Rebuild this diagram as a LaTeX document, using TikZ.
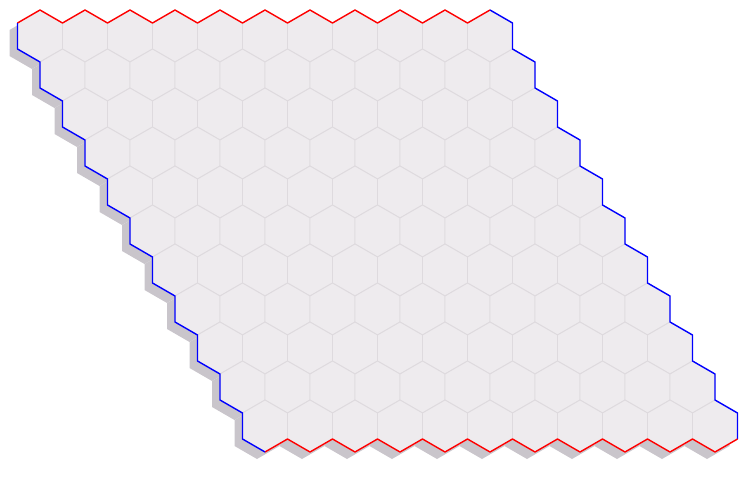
\documentclass[tikz,border=0pt]{standalone}
\usepackage{xcolor}
\usepackage{tikz}

\definecolor{cellfill}{RGB}{238,235,238}
\definecolor{cellgrid}{RGB}{222,218,222}
\definecolor{boardshadow}{RGB}{201,197,203}

\begin{document}
\begin{tikzpicture}[x=0.02cm, y=-0.02cm, line join=round,
	cell/.style={draw=cellgrid, fill=cellfill, line width=0.5pt},
	shade/.style={fill=boardshadow},
	redside/.style={red, line width=0.8pt},
	blueside/.style={blue, line width=0.8pt}]
		\useasboundingbox (0,0) rectangle (750,480);

		% Shadow under the board
		\foreach \i in {0,...,10} {
			\foreach \j in {0,...,10} {
				\fill[shade] (32+45*\j+22.5*\i, 43+39*\i) +(0,-26) -- +(22.5,-13) -- +(22.5,13) -- +(0,26) -- +(-22.5,13) -- +(-22.5,-13) -- cycle;
			}
		}

		% Cells
		\foreach \i in {0,...,10} {
			\foreach \j in {0,...,10} {
				\draw[cell] (40+45*\j+22.5*\i, 36+39*\i) +(0,-26) -- +(22.5,-13) -- +(22.5,13) -- +(0,26) -- +(-22.5,13) -- +(-22.5,-13) -- cycle;
			}
		}

		% Top side
		\draw[redside] (17.5,23) \foreach \j in {0,...,9} { -- (40+45*\j,10) -- (62.5+45*\j,23) } -- (490,10);

		% Right side
		\draw[blueside] (490,10) \foreach \i in {0,...,10} { -- (512.5+22.5*\i,23+39*\i) -- (512.5+22.5*\i,49+39*\i) };

		% Bottom side
		\draw[redside] (737.5,439) \foreach \j in {10,9,...,1} { -- (265+45*\j,452) -- (242.5+45*\j,439) } -- (265,452);

		% Left side
		\draw[blueside] (265,452) \foreach \i in {10,9,...,0} { -- (17.5+22.5*\i,49+39*\i) -- (17.5+22.5*\i,23+39*\i) };
	\end{tikzpicture}
\end{document}
